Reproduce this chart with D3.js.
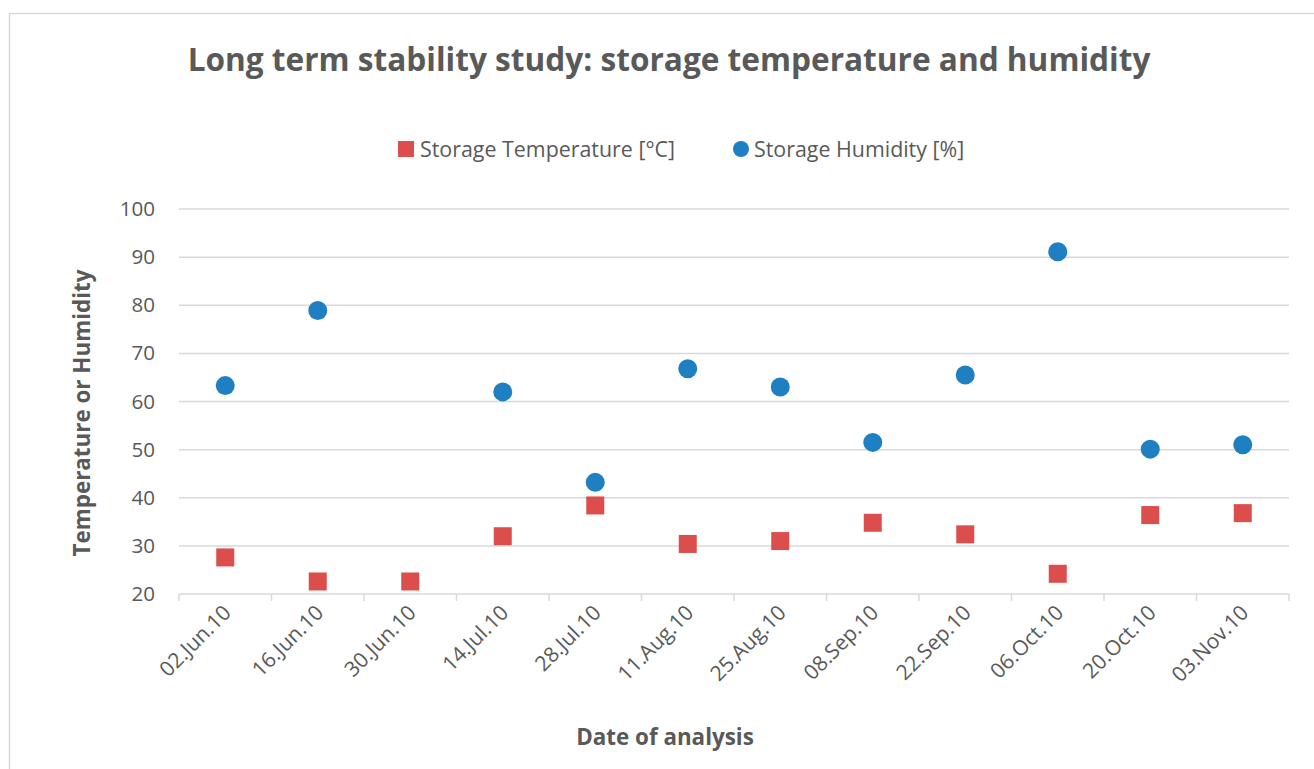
<!DOCTYPE html>
<html>
<head>
<meta charset="utf-8">
<script src="https://cdn.jsdelivr.net/npm/d3@7"></script>
<style>
  body { margin: 0; background: #fff; }
  text { font-family: "Open Sans", "Noto Sans", sans-serif; fill: #595959; }
  .title { font-weight: bold; font-size: 31.6px; }
  .axis-title { font-weight: bold; font-size: 22.4px; }
  .tick-label { font-size: 21px; }
  .legend-label { font-size: 21.4px; }
</style>
</head>
<body>
<div id="chart"></div>
<script>
// ---- data ----
const dates = ["02.Jun.10", "16.Jun.10", "30.Jun.10", "14.Jul.10", "28.Jul.10", "11.Aug.10",
               "25.Aug.10", "08.Sep.10", "22.Sep.10", "06.Oct.10", "20.Oct.10", "03.Nov.10"];
const temperature = [27.6, 22.6, 22.6, 32.0, 38.4, 30.4, 31.0, 34.8, 32.4, 24.2, 36.4, 36.8];
const humidity = [63.3, 78.9, null, 62.0, 43.2, 66.8, 63.0, 51.5, 65.5, 91.1, 50.1, 51.0];
const yTicks = [20, 30, 40, 50, 60, 70, 80, 90, 100];

const W = 1314, H = 769;
const plot = {left: 179, right: 1289, top: 209, bottom: 594};

const svg = d3.select("#chart").append("svg")
  .attr("width", W).attr("height", H);

// outer chart border
svg.append("rect")
  .attr("x", 9.5).attr("y", 13.5)
  .attr("width", W + 20).attr("height", H + 20)
  .attr("fill", "#fff").attr("stroke", "#d9d9d9").attr("stroke-width", 1.5);

const x = d3.scaleBand().domain(dates).range([plot.left, plot.right]);
const y = d3.scaleLinear().domain([20, 100]).range([plot.bottom, plot.top]);

// gridlines
svg.append("g")
  .selectAll("line")
  .data(yTicks.filter(d => d > 20))
  .join("line")
  .attr("x1", plot.left).attr("x2", plot.right)
  .attr("y1", d => y(d)).attr("y2", d => y(d))
  .attr("stroke", "#d9d9d9").attr("stroke-width", 1.5);

// y axis labels
const yAxis = svg.append("g")
  .attr("transform", `translate(${plot.left},0)`)
  .call(d3.axisLeft(y).tickValues(yTicks).tickSize(0).tickPadding(24));
yAxis.select(".domain").remove();
yAxis.selectAll("text")
  .attr("fill", "#595959")
  .style("font-size", "20.6px")
  .style("font-family", "'Open Sans', sans-serif");

// x axis line + ticks at band edges
const xg = svg.append("g");
xg.append("line")
  .attr("x1", plot.left).attr("x2", plot.right)
  .attr("y1", plot.bottom).attr("y2", plot.bottom)
  .attr("stroke", "#d9d9d9").attr("stroke-width", 1.5);
const edges = dates.map(d => x(d)).concat([plot.right]);
xg.selectAll("line.tk")
  .data(edges)
  .join("line")
  .attr("class", "tk")
  .attr("x1", d => d).attr("x2", d => d)
  .attr("y1", plot.bottom).attr("y2", plot.bottom + 7)
  .attr("stroke", "#d9d9d9").attr("stroke-width", 1.5);

// x tick labels rotated -45
xg.selectAll("text")
  .data(dates)
  .join("text")
  .attr("class", "tick-label")
  .attr("text-anchor", "end")
  .attr("transform", d => `translate(${x(d) + x.bandwidth() / 2 + 7},${plot.bottom + 20}) rotate(-45)`)
  .text(d => d);

// temperature squares
const sq = 18;
svg.append("g")
  .selectAll("rect")
  .data(dates.map((d, i) => ({date: d, v: temperature[i]})))
  .join("rect")
  .attr("x", d => x(d.date) + x.bandwidth() / 2 - sq / 2)
  .attr("y", d => y(d.v) - sq / 2)
  .attr("width", sq).attr("height", sq)
  .attr("fill", "#dc4e4b");

// humidity circles
svg.append("g")
  .selectAll("circle")
  .data(dates.map((d, i) => ({date: d, v: humidity[i]})).filter(d => d.v != null))
  .join("circle")
  .attr("cx", d => x(d.date) + x.bandwidth() / 2)
  .attr("cy", d => y(d.v))
  .attr("r", 9.5)
  .attr("fill", "#1f7fc3");

// title
svg.append("text")
  .attr("class", "title")
  .attr("x", 669).attr("y", 71)
  .attr("text-anchor", "middle")
  .text("Long term stability study: storage temperature and humidity");

// legend
const lg = svg.append("g");
lg.append("rect").attr("x", 398).attr("y", 141).attr("width", 16).attr("height", 16).attr("fill", "#dc4e4b");
lg.append("text").attr("class", "legend-label").attr("x", 420).attr("y", 157).text("Storage Temperature [°C]");
lg.append("circle").attr("cx", 741).attr("cy", 149).attr("r", 8).attr("fill", "#1f7fc3");
lg.append("text").attr("class", "legend-label").attr("x", 754).attr("y", 157).text("Storage Humidity [%]");

// axis titles
svg.append("text")
  .attr("class", "axis-title")
  .attr("text-anchor", "middle")
  .attr("transform", "translate(90,413) rotate(-90)")
  .text("Temperature or Humidity");

svg.append("text")
  .attr("class", "axis-title")
  .attr("text-anchor", "middle")
  .attr("x", 665).attr("y", 745)
  .text("Date of analysis");
</script>
</body>
</html>
